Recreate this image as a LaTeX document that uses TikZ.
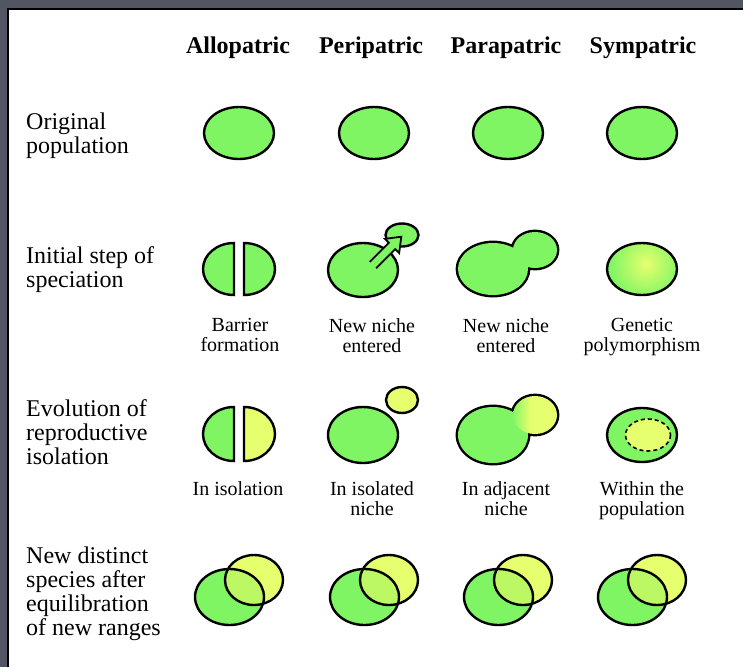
\documentclass[tikz,border=0pt]{standalone}
\usepackage{fontspec}
\setmainfont{Liberation Serif}
\definecolor{popgreen}{RGB}{128,245,100}
\definecolor{popyellow}{RGB}{230,255,110}
\definecolor{popmix}{RGB}{188,247,100}
\definecolor{framegrey}{RGB}{82,85,98}
\tikzset{
  pop/.style={draw=black,line width=2.4pt},
  head/.style={font=\fontsize{24}{24}\selectfont\bfseries,inner sep=0pt,anchor=base},
  rowlabel/.style={font=\fontsize{24}{24}\selectfont,align=left,anchor=north west,inner sep=0pt},
  caption/.style={font=\fontsize{20}{20.5}\selectfont,align=center,anchor=north,inner sep=0pt},
}
\begin{document}
\begin{tikzpicture}[x=1pt,y=-1pt]
\useasboundingbox (0,0) rectangle (743,667);
\fill[white] (0,0) rectangle (743,667);
\fill[framegrey] (0,0) rectangle (743,8);
\fill[framegrey] (0,0) rectangle (8,667);
\draw[line width=2pt] (8,667) -- (8,9) -- (743,9);

\node[head] (allo) at (238,53) {Allopatric};
\node[head] (peri) at (371,53) {Peripatric};
\node[head] (para) at (506,53) {Parapatric};
\node[head] (symp) at (643,53) {Sympatric};

\node[rowlabel] (orig) at (26,113) {Original\\population};
\node[rowlabel] (init) at (26,246) {Initial step of\\speciation};
\node[rowlabel] (evol) at (26,399) {Evolution of\\reproductive\\isolation};
\node[rowlabel] (newsp) at (26,547) {New distinct\\species after\\equilibration\\of new ranges};

\node[caption] (barrier) at (240,318) {Barrier\\formation};
\node[caption] (niche) at (372,318) {New niche\\entered};
\node[caption] (nicheb) at (506,318) {New niche\\entered};
\node[caption] (genetic) at (642,318) {Genetic\\polymorphism};
\node[caption] (isol) at (238,481) {In isolation};
\node[caption] (isolniche) at (372,481) {In isolated\\niche};
\node[caption] (adjniche) at (506,481) {In adjacent\\niche};
\node[caption] (within) at (642,481) {Within the\\population};

% original population
\foreach \x in {239,374,508,642}
  \draw[pop,fill=popgreen] (\x,133) ellipse [x radius=35,y radius=26];

% initial step
\draw[pop,fill=popgreen] (234,243) arc [start angle=270,end angle=90,x radius=31,y radius=26] -- cycle;
\draw[pop,fill=popgreen] (244,243) arc [start angle=270,end angle=450,x radius=31,y radius=26] -- cycle;

\draw[pop,fill=popgreen] (363,270) ellipse [x radius=35,y radius=27];
\draw[pop,fill=popgreen] (402,235) ellipse [x radius=16.5,y radius=11.5];
\begin{scope}[shift={(373,265)},rotate=45]
  \draw[line width=1.8pt,fill=popgreen] (0,4.5) -- (27,4.5) -- (27,10) -- (40,0) -- (27,-10) -- (27,-4.5) -- (0,-4.5);
\end{scope}

\draw[line width=4.8pt] (493,269) ellipse [x radius=35,y radius=26] (535,250) ellipse [x radius=22,y radius=18];
\fill[popgreen] (493,269) ellipse [x radius=35,y radius=26] (535,250) ellipse [x radius=22,y radius=18];

\fill[popgreen] (642,269) ellipse [x radius=35,y radius=26];
\begin{scope}
  \clip (642,269) ellipse [x radius=35,y radius=26];
  \shade[inner color=popyellow,outer color=popgreen] (646,264) circle (36);
\end{scope}
\draw[pop] (642,269) ellipse [x radius=35,y radius=26];

% reproductive isolation
\draw[pop,fill=popgreen] (234,407) arc [start angle=270,end angle=90,x radius=31,y radius=27] -- cycle;
\draw[pop,fill=popyellow] (244,407) arc [start angle=270,end angle=450,x radius=31,y radius=27] -- cycle;

\draw[pop,fill=popgreen] (363,435) ellipse [x radius=35,y radius=28];
\draw[pop,fill=popyellow] (402,400) ellipse [x radius=16,y radius=13];

\draw[line width=4.8pt] (493,435) ellipse [x radius=35,y radius=28] (535,415) ellipse [x radius=22,y radius=19];
\fill[popgreen] (493,435) ellipse [x radius=35,y radius=28];
\begin{scope}
  \clip (535,415) ellipse [x radius=22,y radius=19];
  \shade[left color=popgreen,right color=popyellow] (512,390) rectangle (530,440);
  \fill[popyellow] (530,390) rectangle (560,440);
\end{scope}

\draw[pop,fill=popgreen] (642,435) ellipse [x radius=35,y radius=27];
\draw[line width=1.6pt,dash pattern=on 4pt off 3pt,fill=popyellow] (648,435) ellipse [x radius=22.5,y radius=16];

% new ranges
\foreach \x in {239,374,508,642} {
  \fill[popgreen] ({\x-9.5},597) ellipse [x radius=34.5,y radius=28];
  \fill[popyellow] ({\x+15},580) ellipse [x radius=29,y radius=25];
  \begin{scope}
    \clip ({\x-9.5},597) ellipse [x radius=34.5,y radius=28];
    \fill[popmix] ({\x+15},580) ellipse [x radius=29,y radius=25];
  \end{scope}
  \draw[pop] ({\x-9.5},597) ellipse [x radius=34.5,y radius=28];
  \draw[pop] ({\x+15},580) ellipse [x radius=29,y radius=25];
}
\end{tikzpicture}
\end{document}
